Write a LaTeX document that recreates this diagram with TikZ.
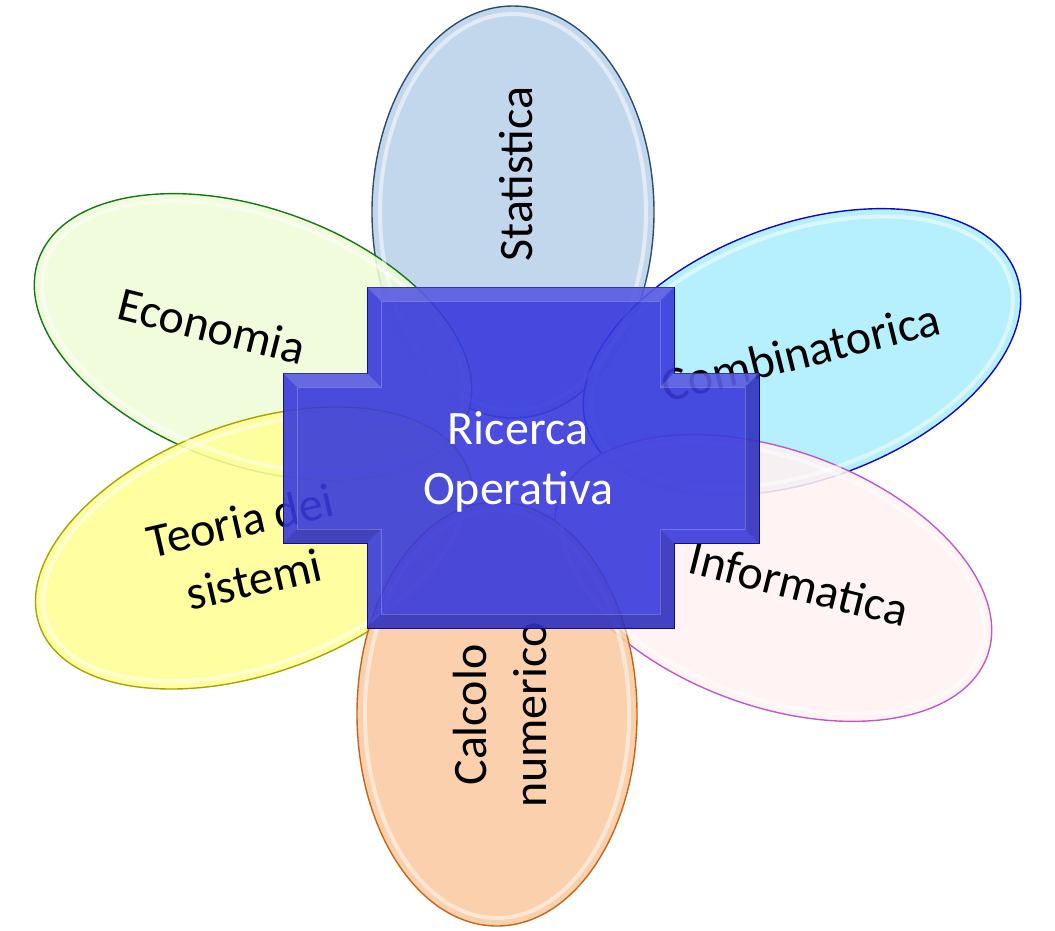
\documentclass[tikz,border=0pt]{standalone}
\usepackage{fontspec}
\setmainfont{Carlito}
\usetikzlibrary{shapes.geometric}

\definecolor{statfill}{RGB}{187,209,233}
\definecolor{statline}{RGB}{45,75,115}
\definecolor{econfill}{RGB}{238,252,215}
\definecolor{econline}{RGB}{20,120,20}
\definecolor{combfill}{RGB}{172,238,254}
\definecolor{combline}{RGB}{10,10,200}
\definecolor{teofill}{RGB}{255,255,148}
\definecolor{teoline}{RGB}{165,165,0}
\definecolor{infofill}{RGB}{255,241,241}
\definecolor{infoline}{RGB}{190,90,200}
\definecolor{calcfill}{RGB}{250,202,160}
\definecolor{calcline}{RGB}{200,100,20}
\definecolor{crossfill}{RGB}{56,58,220}
\definecolor{crossline}{RGB}{15,15,140}

\begin{document}
\begin{tikzpicture}[x=1pt, y=1pt,
    petal/.style={ellipse, draw, line width=1.4pt, fill opacity=0.88, inner sep=0pt},
    petalring/.style={ellipse, draw=white, line width=4pt, draw opacity=0.5, inner sep=0pt},
    petaltext/.style={align=center, text=black, font=\fontsize{48}{60}\selectfont}]

  \useasboundingbox (0,0) rectangle (1055,-930);

  % petals
  \node[petal, fill=statfill, draw=statline, minimum width=282pt, minimum height=412pt] (stat) at (513,-212) {};
  \node[petal, fill=econfill, draw=econline, minimum width=456pt, minimum height=256pt, rotate=-20] (econ) at (253,-337) {};
  \node[petal, fill=combfill, draw=combline, minimum width=456pt, minimum height=256pt, rotate=20] (comb) at (802,-352) {};
  \node[petal, fill=teofill, draw=teoline, minimum width=456pt, minimum height=250pt, rotate=20] (teo) at (254,-548) {};
  \node[petal, fill=infofill, draw=infoline, minimum width=456pt, minimum height=256pt, rotate=-20] (info) at (773,-578) {};
  \node[petal, fill=calcfill, draw=calcline, minimum width=280pt, minimum height=424pt] (calc) at (497,-714) {};

  % glass rings
  \node[petalring, minimum width=266pt, minimum height=396pt] (stat-r) at (stat.center) {};
  \node[petalring, minimum width=440pt, minimum height=240pt, rotate=-20] (econ-r) at (econ.center) {};
  \node[petalring, minimum width=440pt, minimum height=240pt, rotate=20] (comb-r) at (comb.center) {};
  \node[petalring, minimum width=440pt, minimum height=234pt, rotate=20] (teo-r) at (teo.center) {};
  \node[petalring, minimum width=440pt, minimum height=240pt, rotate=-20] (info-r) at (info.center) {};
  \node[petalring, minimum width=264pt, minimum height=408pt] (calc-r) at (calc.center) {};

  % labels
  \node[petaltext, rotate=90] (stat-t) at (516,-174) {Statistica};
  \node[petaltext, rotate=-14] (econ-t) at (212,-326) {Economia};
  \node[petaltext, rotate=14] (comb-t) at (801,-352) {Combinatorica};
  \node[petaltext, rotate=13] (teo-t) at (247,-550) {Teoria dei\\sistemi};
  \node[petaltext, rotate=-14] (info-t) at (799,-584) {Informatica};
  \node[petaltext, rotate=90] (calc-t) at (500,-715) {Calcolo\\numerico};

  % cross
  \draw[crossline, line width=1pt, fill=crossfill, fill opacity=0.9]
    (367,-287) -- (674,-287) -- (674,-373) -- (759,-373) -- (759,-543) -- (674,-543)
    -- (674,-628) -- (367,-628) -- (367,-543) -- (283,-543) -- (283,-373) -- (367,-373) -- cycle;
  \fill[white, fill opacity=0.16]
    (367,-287) -- (674,-287) -- (660,-301) -- (381,-301) -- cycle
    (283,-373) -- (367,-373) -- (381,-387) -- (297,-387) -- cycle
    (674,-373) -- (759,-373) -- (745,-387) -- (660,-387) -- cycle;
  \fill[black, fill opacity=0.12]
    (759,-373) -- (759,-543) -- (745,-529) -- (745,-387) -- cycle
    (674,-543) -- (674,-628) -- (660,-614) -- (660,-529) -- cycle
    (367,-628) -- (674,-628) -- (660,-614) -- (381,-614) -- cycle
    (283,-543) -- (367,-543) -- (381,-529) -- (297,-529) -- cycle;
  \draw[white, draw opacity=0.22, line width=0.8pt]
    (381,-301) -- (660,-301) -- (660,-387) -- (745,-387) -- (745,-529) -- (660,-529)
    -- (660,-614) -- (381,-614) -- (381,-529) -- (297,-529) -- (297,-387) -- (381,-387) -- cycle;

  \node[petaltext, text=white] (ro) at (518,-462) {Ricerca\\Operativa};
\end{tikzpicture}
\end{document}
